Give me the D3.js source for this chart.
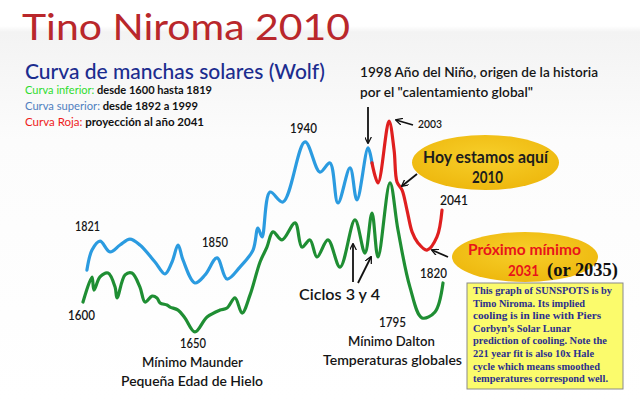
<!DOCTYPE html>
<html><head><meta charset="utf-8">
<script src="https://cdn.jsdelivr.net/npm/d3@7"></script>
<style>html,body{margin:0;padding:0;background:#fff;}svg{display:block;}</style>
</head><body>
<svg id="chart" width="640" height="401"></svg>
<script>
// ---- Data (x = year within the 220-year cycle, y = relative sunspot level) ----
const greenStartYear = 1600;   // lower curve 1600–1820
const greenCycleYear = [0,5.5,6.7,10.4,15.3,19.6,20.8,25.7,29.9,34.8,37.9,42.2,45.2,47.1,51.3,53.2,58.1,62.3,68.4,75.8,83.7,88.0,92.9,97.2,102.1,108.2,112.4,116.1,121.6,129.6,133.8,138.7,143.0,149.7,157.1,166.2,172.3,176.6,180.3,187.6,192.5,199.8,207.2,215.1,220];
const greenLevel     = [16.5,27.4,21.7,27.4,29.1,23.0,18.3,28.3,29.1,23.0,16.5,19.1,18.3,16.1,15.2,14.3,13.0,9.6,3.5,10.0,13.0,13.9,18.3,11.7,19.6,33.9,40.4,47.0,43.5,50.9,40.4,43.5,36.1,43.5,31.7,52.2,37.8,55.2,36.1,68.3,47.8,23.0,9.6,12.2,24.8];

const blueStartYear = 1821;    // upper curve 1821–1999
const blueCycleYear = [2.4,5.5,10.4,16.5,22.6,28.7,34.8,44.0,50.1,54.4,58.1,61.1,68.4,74.6,81.9,88.0,95.9,103.9,106.9,109.4,114.3,122.2,135.7,144.8,150.9,155.8,163.2,167.4,174.2,176.6];
const blueLevel     = [30.4,39.1,43.0,38.3,41.3,43.9,41.3,33.9,28.7,33.9,41.3,34.8,24.8,28.3,35.7,26.5,31.7,39.1,48.7,44.8,64.3,60.0,86.1,73.0,77.0,59.6,74.8,60.9,83.5,77.0];

const redCycleYear = [176.6,180.3,187.0,190.1,191.9,195.0,198.0,201.1,204.7,210.2,216.3,219.4];  // projection to 2041
const redLevel     = [77.0,68.3,95.2,82.6,68.7,65.2,56.5,47.0,42.2,39.1,44.8,56.5];

const title = "Tino Niroma 2010";
const subtitle = "Curva de manchas solares (Wolf)";
const legendKeys  = ["Curva inferior:", "Curva superior:", "Curva Roja:"];
const legendTexts = [" desde 1600 hasta 1819", " desde 1892 a 1999", " proyección al año 2041"];
const noteLines = ["This graph of SUNSPOTS is by","Timo Niroma. Its implied","cooling is in line with Piers","Corbyn\u2019s Solar Lunar","prediction of cooling. Note the","221 year fit is also 10x Hale","cycle which means smoothed","temperatures correspond well."];

// ---- Drawing ----
const svg = d3.select("#chart");
const defs = svg.append("defs");
const bg = defs.append("linearGradient").attr("id","bg").attr("x1",0).attr("y1",0).attr("x2",0).attr("y2",1);
bg.append("stop").attr("offset","0").attr("stop-color","#ffffff");
bg.append("stop").attr("offset","0.065").attr("stop-color","#ffffff");
bg.append("stop").attr("offset","0.08").attr("stop-color","#f3f3f3");
bg.append("stop").attr("offset","0.35").attr("stop-color","#fcfcfc");
bg.append("stop").attr("offset","1").attr("stop-color","#ffffff");
svg.append("rect").attr("width",640).attr("height",401).attr("fill","url(#bg)");

const ell = defs.append("radialGradient").attr("id","ell").attr("cx","50%").attr("cy","40%").attr("r","60%");
ell.append("stop").attr("offset","0").attr("stop-color","#f7cf2a");
ell.append("stop").attr("offset","1").attr("stop-color","#eeb80e");

defs.append("marker").attr("id","ah").attr("viewBox","0 0 10 10").attr("refX",9).attr("refY",5)
  .attr("markerWidth",7).attr("markerHeight",7).attr("markerUnits","userSpaceOnUse").attr("orient","auto")
  .append("path").attr("d","M0,0 L10,5 L0,10").attr("fill","none").attr("stroke","#111").attr("stroke-width",1.8);

const x = d3.scaleLinear().domain([0,220]).range([83,443]);
const y = d3.scaleLinear().domain([0,100]).range([340,110]);
const line = d3.line().x(d=>x(d[0])).y(d=>y(d[1])).curve(d3.curveCatmullRom.alpha(0.5));
const zip = (a,b)=>a.map((v,i)=>[v,b[i]]);

const font = "Lato, 'Open Sans', sans-serif";

// Title block
svg.append("text").attr("x",22).attr("y",40).attr("font-family",font).attr("font-size",36)
  .attr("fill","#b9272b").attr("textLength",328).attr("lengthAdjust","spacingAndGlyphs").text(title);
svg.append("text").attr("x",25).attr("y",79).attr("font-family",font).attr("font-size",21).attr("font-weight",500)
  .attr("fill","#1c2d8f").attr("textLength",300).attr("lengthAdjust","spacingAndGlyphs").text(subtitle);
const legColors = ["#2fdc2f","#4f7fbf","#ee1b1b"];
const legEnds = [212,198,204];
legendKeys.forEach((k,i)=>{
  const t = svg.append("text").attr("x",25).attr("y",94+i*16).attr("font-family",font).attr("font-size",11)
    .attr("textLength",legEnds[i]-25).attr("lengthAdjust","spacingAndGlyphs");
  t.append("tspan").attr("fill",legColors[i]).text(k);
  t.append("tspan").attr("fill","#111").attr("font-weight",700).text(legendTexts[i]);
});

// Curves
svg.append("path").datum(zip(greenCycleYear,greenLevel)).attr("d",line)
  .attr("fill","none").attr("stroke","#1f8e33").attr("stroke-width",3.2).attr("stroke-linejoin","round").attr("stroke-linecap","round");
svg.append("path").datum(zip(blueCycleYear,blueLevel)).attr("d",line)
  .attr("fill","none").attr("stroke","#2b9be0").attr("stroke-width",3.2).attr("stroke-linejoin","round").attr("stroke-linecap","round");
svg.append("path").datum(zip(redCycleYear,redLevel)).attr("d",line)
  .attr("fill","none").attr("stroke","#df1f1f").attr("stroke-width",3.2).attr("stroke-linejoin","round").attr("stroke-linecap","round");

// Labels helper
function label(txt, cx, by, size, len, opts={}){
  const t = svg.append("text").attr("x",cx).attr("y",by).attr("font-family",opts.family||font)
    .attr("font-size",size).attr("font-weight",opts.weight||600).attr("fill",opts.fill||"#151515")
    .attr("text-anchor",opts.anchor||"middle").text(txt);
  if(len) t.attr("textLength",len).attr("lengthAdjust","spacingAndGlyphs");
  return t;
}
label("1821",87.5,231,13,25);
label("1850",215,247,13,26);
label("1940",303.5,133,13,27);
label("1600",81.5,320,13,27);
label("1650",193,348,13,26);
label("Mínimo Maunder",192.5,367,14,101);
label("Pequeña Edad de Hielo",192,386,14,142);
label("Ciclos 3 y 4",339.5,300,16,81);
label("1795",392.5,327,13,27);
label("Mínimo Dalton",391.5,346,14,87);
label("Temperaturas globales",392.5,365,14,139);
label("1820",433.5,278,13,27);
label("2041",454,205,13,28);
label("2003",430,128,12,24);
label("1998 Año del Niño, origen de la historia",360,77,14,238,{anchor:"start"});
label("por el \"calentamiento global\"",360,97,14,173,{anchor:"start"});

// Ellipses
svg.append("ellipse").attr("cx",485.5).attr("cy",162.5).attr("rx",73.5).attr("ry",27.5).attr("fill","url(#ell)");
label("Hoy estamos aquí",485.5,163,17,125,{weight:700,fill:"#1d1d1d"});
label("2010",487.5,183,17,31,{weight:700,fill:"#1d1d1d"});
svg.append("ellipse").attr("cx",525).attr("cy",257).attr("rx",73).attr("ry",25).attr("fill","url(#ell)");
label("Próximo mínimo",524.5,255,16,113,{weight:700,fill:"#e8141a"});
label("2031",523.5,276,16,31,{weight:700,fill:"#e8141a"});
label("(or 2035)",547,276,19,71,{weight:700,fill:"#111",anchor:"start",family:"'Liberation Serif', 'Times New Roman', serif"});

// Arrows
const arrows = [[368,107,368,143],[413,125,396,120],[417,174,402,186],[448,257,432,250],[353,282,353,244],[358,283,371,257]];
svg.selectAll("line.arrow").data(arrows).join("line").attr("class","arrow")
  .attr("x1",d=>d[0]).attr("y1",d=>d[1]).attr("x2",d=>d[2]).attr("y2",d=>d[3])
  .attr("stroke","#111").attr("stroke-width",1.8).attr("marker-end","url(#ah)");

// Note box
svg.append("rect").attr("x",467).attr("y",283).attr("width",156).attr("height",106)
  .attr("fill","#fbfb6c").attr("stroke","#8a8a8a").attr("stroke-width",1);
const noteEnds = [612,585,601,571,607,594,600,608];
noteLines.forEach((s,i)=>{
  svg.append("text").attr("x",473).attr("y",294+i*12.6).attr("font-family","'Liberation Serif','Times New Roman',serif")
    .attr("font-size",11).attr("font-weight",700).attr("fill","#2b2f8e")
    .attr("textLength",noteEnds[i]-473).attr("lengthAdjust","spacingAndGlyphs").text(s);
});
</script>
</body></html>
